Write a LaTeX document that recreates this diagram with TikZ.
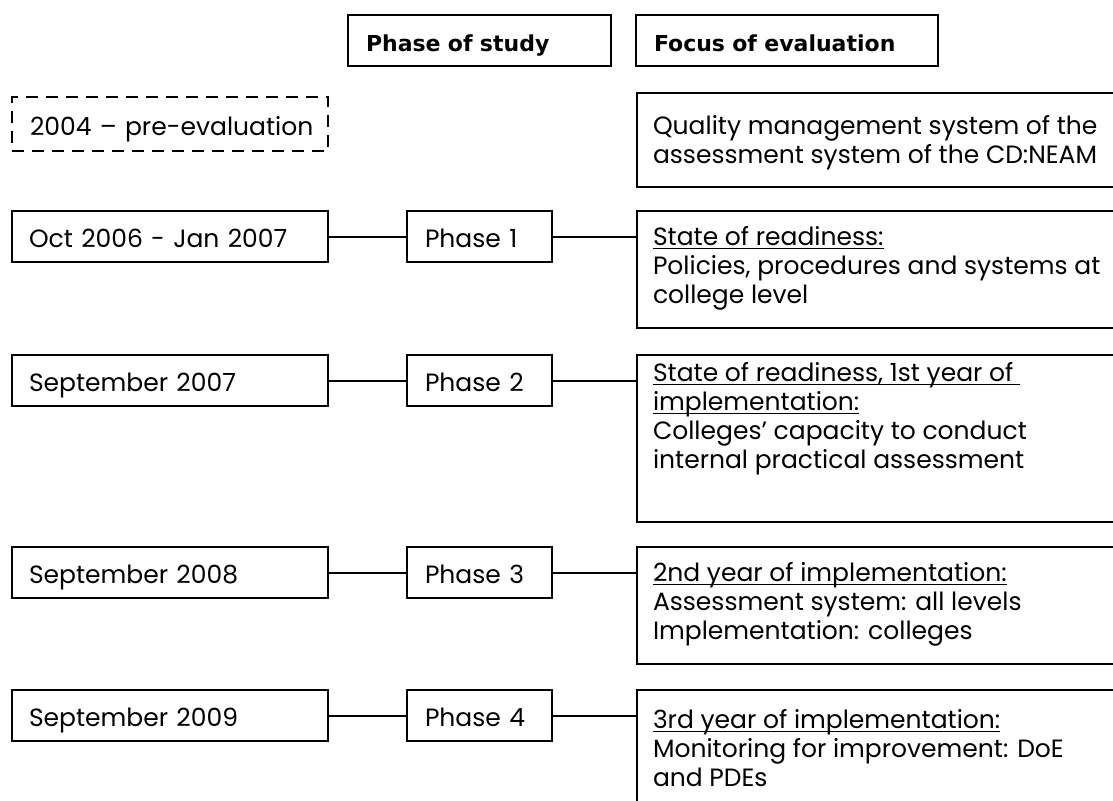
\documentclass[tikz,border=0pt]{standalone}
\usepackage{fontspec}
\setmainfont{Poppins}
\newfontfamily\headfont{DejaVu Sans}
\usetikzlibrary{positioning}

% #1 = distance du haut a la premiere ligne de base, #2 = hauteur de la boite
\newcommand{\focustxt}[3][34pt]{\parbox[c][#2][t]{560pt}{\raggedright\rule{0pt}{#1}#3}}
\newcommand{\souligne}[1]{\leavevmode\setbox0\hbox{#1}\rlap{\rule[-4pt]{\wd0}{1.4pt}}\box0}

\tikzset{
	cadre/.style={draw, rectangle, line width=2pt, anchor=north west, align=left,
		inner ysep=0pt, font=\fontsize{25}{29}\selectfont},
	uneligne/.style={text height=24pt, text depth=2pt},
	datebox/.style={cadre, uneligne, text width=282pt, inner xsep=17pt, minimum height=51pt},
	phasebox/.style={cadre, uneligne, text width=109pt, inner xsep=18pt, minimum height=51pt},
	headbox/.style={cadre, uneligne, inner xsep=18pt, minimum height=51pt,
		font=\headfont\bfseries\fontsize{22}{26}\selectfont},
	focusbox/.style={cadre, inner xsep=16pt},
	trait/.style={line width=2pt}
}

\begin{document}
\begin{tikzpicture}[x=1pt,y=-1pt]
	\useasboundingbox (0,0) rectangle (1113,800);
	\clip (0,0) rectangle (1113,800);

	% en-tetes
	\node[headbox, text width=227pt] (headphase) at (347,14) {Phase of study};
	\node[headbox, text width=266pt] (headfocus) at (635,14) {Focus of evaluation};

	\node[cadre, uneligne, dashed, dash pattern=on 12pt off 8pt, text width=280pt, inner xsep=18pt,
		minimum height=54pt] (preeval) at (11,96) {\mbox{2004 – pre-evaluation}};
	\node[focusbox] (quality) at (636,92) {\focustxt[41pt]{94pt}{Quality management system of the\\
		assessment system of the CD:NEAM}};

	% lignes
	\foreach \num/\haut/\date in
	{1/210/{Oct 2006 - Jan 2007},
	2/354/{September 2007},
	3/546/{September 2008},
	4/689/{September 2009}}
		{\node[datebox] (date\num) at (11,\haut) {\date};
		\node[phasebox] (phase\num) at (406,\haut) {Phase \num};
		\draw[trait] (date\num) -- (phase\num);}

	\node[focusbox] (focus1) at (636,210) {\focustxt{117pt}{\souligne{State of readiness:}\\
		Policies, procedures and systems at\\ college level}};
	\node[focusbox] (focus2) at (636,354) {\focustxt[26pt]{167pt}{\souligne{State of readiness, 1st year of\ }\\
		\souligne{implementation:}\\ Colleges’ capacity to conduct\\ internal practical assessment}};
	\node[focusbox] (focus3) at (636,546) {\focustxt{117pt}{\souligne{2nd year of implementation:}\\
		Assessment system: all levels\\ Implementation: colleges}};
	\node[focusbox] (focus4) at (636,689) {\focustxt[38pt]{117pt}{\souligne{3rd year of implementation:}\\
		Monitoring for improvement: DoE\\ and PDEs}};

	\foreach \num in {1,2,3,4}
		\draw[trait] (phase\num.east) -- (phase\num.east -| focus\num.west);
\end{tikzpicture}
\end{document}
